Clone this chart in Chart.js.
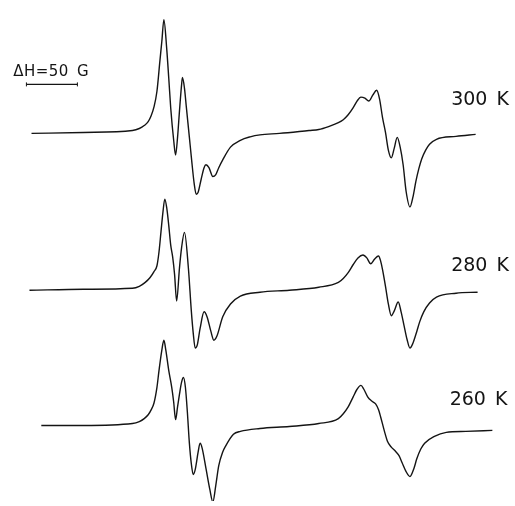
<!DOCTYPE html>
<html>
<head>
<meta charset="utf-8">
<script src="https://cdn.jsdelivr.net/npm/chart.js@4"></script>
<style>
  html, body { margin: 0; padding: 0; background: #fff; }
  #wrap { width: 515px; height: 506px; position: relative; }
</style>
</head>
<body>
<div id="wrap"><canvas id="epr"></canvas></div>
<script>
// EPR derivative spectra at three temperatures.
// Field in gauss (relative to the start of the sweep), signal in arbitrary units.
const temperatures = ['300 K', '280 K', '260 K'];

const field300 = [0, 50.9, 99.0, 105.7, 110.5, 114.4, 117.3, 120.1, 123.0, 125.9,
  127.8, 129.8, 132.6, 134.6, 136.5, 139.4, 141.3, 143.2, 145.1, 147.1,
  148.0, 150.0, 151.9, 154.8, 156.7, 159.6, 161.5, 163.4, 166.3, 169.2,
  171.1, 174.0, 177.8, 180.7, 183.6, 187.5, 195.1, 204.8, 214.4, 224.0,
  243.2, 272.1, 281.7, 291.3, 300.9, 305.7, 310.5, 315.3, 319.2, 323.0,
  326.9, 330.7, 334.6, 338.4, 341.3, 344.2, 347.1, 349.9, 352.8, 355.7,
  358.6, 361.5, 364.4, 367.3, 371.1, 374.0, 376.9, 379.8, 382.6, 386.5,
  390.3, 397.1, 416.3, 435.5];
const signal300 = [0, 1, 3, 5, 8, 12, 18, 27, 43, 74,
  94, 116, 86, 56, 26, -7, -22, -4, 23, 49,
  57, 46, 26, -4, -24, -52, -62, -60, -47, -35,
  -32, -35, -44, -42, -35, -27, -14, -7, -3.5, -1.5,
  0, 3, 4, 7, 11, 14, 19, 26, 33, 37,
  36, 33, 39, 44, 35, 16, 1, -17, -25, -15,
  -4, -14, -32, -59, -75, -65, -49, -36, -26, -17,
  -11, -6, -3, -1];

const field280 = [-2.0, 50.9, 99.0, 105.7, 111.5, 116.3, 120.1, 123.0, 125.0, 126.9,
  128.8, 130.7, 132.6, 134.6, 136.5, 138.4, 140.3, 142.3, 145.1, 147.1,
  150.0, 153.8, 156.7, 158.6, 160.5, 162.5, 165.3, 169.2, 172.1, 175.9,
  178.8, 181.7, 187.5, 195.1, 204.8, 224.0, 252.8, 281.7, 300.9, 305.7,
  310.5, 315.3, 320.1, 325.0, 328.8, 332.6, 336.5, 340.3, 342.3, 344.2,
  347.1, 349.9, 352.8, 355.7, 359.6, 362.4, 365.3, 368.2, 371.1, 374.0,
  377.8, 380.7, 384.6, 390.3, 397.1, 416.3, 437.4];
const signal280 = [0, 1, 2, 4, 8, 13, 19, 25, 39, 59,
  79, 93, 84, 66, 46, 34, 16, -11, 23, 43,
  59, 23, -21, -44, -59, -56, -39, -22, -27, -42,
  -51, -47, -27, -14, -6, -2, 0, 3, 8, 12,
  18, 26, 33, 36, 33, 27, 32, 35, 30, 21,
  4, -14, -26, -21, -12, -22, -36, -50, -59, -54,
  -42, -32, -22, -13, -7, -3, -2];

const field260 = [9.6, 50.9, 99.0, 105.7, 110.5, 114.4, 117.3, 120.1, 123.0, 125.0,
  127.8, 129.8, 131.7, 134.6, 137.5, 139.4, 141.3, 143.2, 145.1, 147.1,
  149.0, 150.9, 152.8, 154.8, 156.7, 158.6, 160.5, 163.4, 165.3, 167.3,
  171.1, 175.0, 177.8, 180.7, 183.6, 187.5, 190.3, 198.0, 204.8, 224.0,
  252.8, 281.7, 300.9, 305.7, 310.5, 315.3, 319.2, 323.0, 325.9, 329.8,
  333.6, 337.4, 340.3, 342.3, 346.1, 349.0, 352.8, 356.7, 360.5, 363.4,
  367.3, 371.1, 374.9, 377.8, 381.7, 385.5, 395.1, 406.7, 425.9, 451.9];
const signal260 = [0, 0, 2, 4, 7, 11, 16, 23, 39, 56,
  77, 87, 77, 56, 39, 24, 6, 19, 32, 44,
  49, 39, 14, -18, -39, -50, -45, -27, -18, -23,
  -44, -66, -78, -61, -41, -27, -21, -9, -6, -3,
  -1, 2, 7, 12, 19, 29, 37, 41, 37, 29,
  25, 22, 16, 9, -6, -16, -22, -26, -31, -38,
  -47, -52, -44, -34, -24, -18, -11, -7, -6, -5];

// Field-scale marker length, in gauss
const scaleBarGauss = 50;

// ---- layout ----
const ink = '#141414';
const traceOffsets = [0, -160, -298];           // vertical stacking of the spectra
const labelPos = [[411.5, 29.3], [411.5, -140], [410, -277.3]];
const barStart = -5, barLevel = 50;
const barText = { x: -18, y: 58.5 };

const fields = [field300, field280, field260];
const signals = [signal300, signal280, signal260];

const datasets = fields.map((f, i) => ({
  label: temperatures[i],
  data: f.map((h, k) => ({ x: h, y: signals[i][k] + traceOffsets[i] })),
  borderColor: ink,
  borderWidth: 1.4,
  pointRadius: 0,
  cubicInterpolationMode: 'monotone',
  fill: false
}));

datasets.push({
  label: 'ΔH',
  data: [{ x: barStart, y: barLevel }, { x: barStart + scaleBarGauss, y: barLevel }],
  borderColor: ink,
  borderWidth: 1.2,
  pointStyle: 'line',
  rotation: 90,
  pointRadius: 2,
  pointBorderColor: ink,
  pointBorderWidth: 1
});

const annotate = {
  id: 'annotate',
  afterDatasetsDraw(chart) {
    const { ctx, scales: { x, y } } = chart;
    ctx.save();
    ctx.fillStyle = ink;
    ctx.textBaseline = 'alphabetic';
    ctx.textAlign = 'left';
    ctx.font = '19px "DejaVu Sans"';
    if ('wordSpacing' in ctx) ctx.wordSpacing = '3px';
    temperatures.forEach((t, i) => {
      ctx.fillText(t, x.getPixelForValue(labelPos[i][0]), y.getPixelForValue(labelPos[i][1]));
    });
    ctx.font = '15px "DejaVu Sans"';
    if ('letterSpacing' in ctx) ctx.letterSpacing = '0.5px';
    if ('wordSpacing' in ctx) ctx.wordSpacing = '3px';
    ctx.fillText('ΔH=' + scaleBarGauss + ' G', x.getPixelForValue(barText.x), y.getPixelForValue(barText.y));
    ctx.restore();
  }
};

new Chart(document.getElementById('epr'), {
  type: 'line',
  data: { datasets },
  options: {
    responsive: true,
    maintainAspectRatio: false,
    animation: false,
    layout: { padding: 0 },
    plugins: { legend: { display: false }, tooltip: { enabled: false } },
    scales: {
      x: { type: 'linear', display: false, min: -26, max: 515 * 50 / 52 - 26 },
      y: { type: 'linear', display: false, min: 131 - 506, max: 131 }
    }
  },
  plugins: [annotate]
});
</script>
</body>
</html>
